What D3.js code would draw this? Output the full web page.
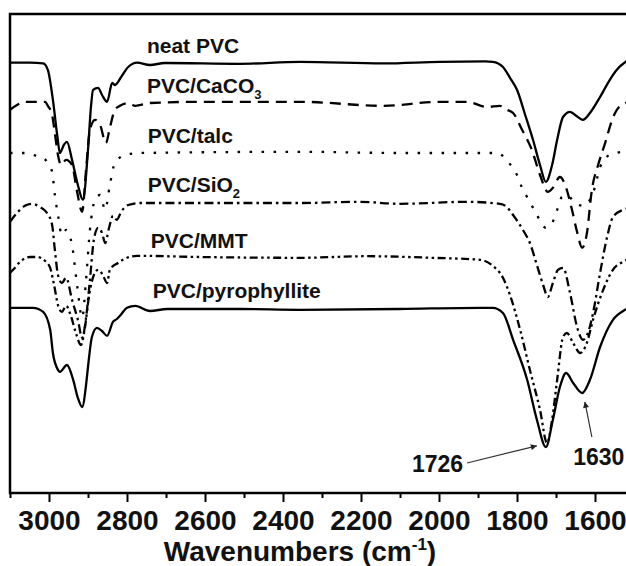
<!DOCTYPE html>
<html>
<head>
<meta charset="utf-8">
<title>FTIR PVC</title>
<script src="https://cdn.jsdelivr.net/npm/d3@7"></script>
<style>
body { margin: 0; background: #fff; }
svg { display: block; font-family: Arial, "Liberation Sans", sans-serif; }
.frame { fill: none; stroke: #000; stroke-width: 2.5px; }
.axis path { display: none; }
.axis line { stroke: #000; stroke-width: 2px; }
.axis text { font-size: 28px; font-weight: bold; fill: #111; }
.spec { fill: none; stroke: #000; stroke-width: 2.3px; stroke-linejoin: round; }
.lbl { font-size: 21px; font-weight: bold; fill: #111; }
.ann { font-size: 23px; font-weight: bold; fill: #111; }
.arrow { stroke: #333; stroke-width: 1.2px; }
</style>
</head>
<body>
<script>

// wavenumber (cm-1), transmittance (a.u., offset per spectrum)
var neatPVC = [
  [3100,107.6],[3049,107.6],[3015,107.4],[3003,105.8],[2990,98.3],[2979,89.5],[2972,85],[2962,87],
  [2954,87.8],[2941,83.3],[2926,77],[2913,73.3],[2900,85.8],[2892,97],[2887,100.8],[2874,101.3],
  [2864,99.5],[2851,97.8],[2838,102.5],[2831,102],[2815,104],[2797,106.5],[2774,107.6],[2741,107],
  [2703,107.5],[2510,107.3],[2356,107.8],[2144,107.4],[1997,107.8],[1882,107.9],[1862,107.8],
  [1836,106.5],[1818,103.8],[1800,100.8],[1779,94.5],[1759,88.3],[1741,82],[1726,77.8],[1710,82],
  [1697,88.3],[1682,94],[1664,95.3],[1651,94.5],[1631,93.3],[1613,95],[1587,99],[1562,103.3],
  [1544,105.8],[1521,107.8],[1500,108.8]
];
var pvcCaCO3 = [
  [3100,95.8],[3082,97],[3062,97.8],[3010,97.8],[3003,96.8],[2992,94.5],[2985,90],[2977,84.5],
  [2969,82],[2956,83.3],[2941,82],[2928,75.3],[2915,70.3],[2905,80.8],[2895,90.8],[2882,93.3],
  [2869,92],[2854,87.5],[2844,91.3],[2831,95.8],[2818,96.8],[2797,97.5],[2779,96.8],[2741,97.5],
  [2613,97.8],[2356,97.8],[2144,96.8],[1997,97.8],[1928,97.8],[1877,96.5],[1844,96.8],[1826,95.8],
  [1810,95],[1787,90.8],[1762,85.8],[1741,79.5],[1721,75.3],[1708,76.3],[1690,79],[1674,76.3],
  [1659,70.8],[1646,65.3],[1633,61.3],[1621,64.8],[1608,75.8],[1592,82],[1574,87.5],[1556,93.3],
  [1544,95.8],[1521,97.5],[1500,98.3]
];
var pvcTalc = [
  [3100,85],[3062,85],[3041,84.5],[3015,83.8],[3003,82.5],[2992,80.3],[2985,74.5],[2977,69.5],
  [2967,64.5],[2956,65.8],[2941,62],[2928,52],[2915,43.8],[2905,53.3],[2895,65.8],[2882,73.3],
  [2869,74.5],[2856,70.8],[2844,77],[2831,82.5],[2805,84.5],[2767,85],[2356,85.3],[2100,85],
  [1851,85],[1823,82.8],[1800,79.5],[1787,76.3],[1767,72.8],[1749,69.5],[1726,66.3],[1710,67.5],
  [1697,70.8],[1685,74],[1672,74.5],[1651,72.5],[1631,71.8],[1613,73.3],[1600,76.5],[1587,81.5],
  [1562,84.5],[1521,85.3],[1500,85.3]
];
var pvcSiO2 = [
  [3100,67.8],[3082,70],[3062,71.8],[3044,72.3],[3023,71.5],[3005,70],[2992,67],[2985,60.8],
  [2977,54.5],[2967,52.5],[2956,53.8],[2941,48.3],[2926,43.3],[2915,38.8],[2905,43.8],[2895,53.3],
  [2885,63.3],[2874,66.3],[2864,65],[2856,62.5],[2846,66.3],[2836,69.3],[2826,68.3],[2815,70.3],
  [2797,72],[2767,72.5],[2613,72.5],[2356,72.5],[2203,72.8],[2100,72.3],[1928,72.8],[1844,72.3],
  [1826,71.5],[1810,69.5],[1785,65.8],[1767,62.5],[1749,57],[1733,52],[1721,49],[1708,52.5],
  [1695,55.8],[1682,56.3],[1664,50],[1646,41.5],[1631,38.3],[1618,40],[1605,45],[1587,55],
  [1569,64],[1554,69],[1528,70.8],[1500,71.5]
];
var pvcMMT = [
  [3100,55],[3092,55.8],[3074,57.8],[3049,59],[3031,59],[3010,58],[2997,56.3],[2987,52],
  [2977,47],[2967,45.3],[2956,46.8],[2944,44.3],[2931,40],[2918,37],[2908,41.3],[2897,49.5],
  [2885,54.5],[2874,55.8],[2862,54.5],[2851,52.5],[2844,55.8],[2823,57.5],[2800,58.8],[2774,59.3],
  [2613,59],[2356,58.8],[2185,59.2],[2018,58.8],[1895,58.3],[1862,56.8],[1836,53.8],[1818,49.5],
  [1792,40.8],[1767,30.8],[1741,20.8],[1723,12.5],[1710,18.3],[1697,28.3],[1682,39],[1672,40],
  [1656,37.5],[1638,35],[1621,37.5],[1605,43.3],[1579,50.8],[1554,55.8],[1528,57.8],[1500,58.8]
];
var pvcPyro = [
  [3100,46.3],[3041,46.3],[3015,45.3],[2997,40.8],[2990,35],[2977,30.8],[2972,30.3],[2954,32],
  [2938,28.3],[2926,23.8],[2915,21.5],[2905,27],[2900,31.5],[2890,39],[2877,41.3],[2864,40.5],
  [2851,39.3],[2836,42.8],[2826,43.5],[2818,44.3],[2800,46.3],[2779,46.8],[2741,45.5],[2697,46],
  [2510,46],[2356,45.8],[2100,46],[1895,46.3],[1862,46.3],[1836,45],[1810,38.3],[1774,28.3],
  [1749,18.3],[1726,11.5],[1708,18.3],[1690,26.5],[1674,30],[1656,27.5],[1633,25],[1613,28.3],
  [1587,36.5],[1554,43.3],[1523,45.8],[1500,46.8]
];

var seriesNames = ["neat PVC", "PVC/CaCO3", "PVC/talc", "PVC/SiO2", "PVC/MMT", "PVC/pyrophyllite"];
var seriesData = [neatPVC, pvcCaCO3, pvcTalc, pvcSiO2, pvcMMT, pvcPyro];
var seriesDash = [null, "11,7", "2.5,9.5", "9,4,2.5,4", "8,3.5,2.5,3.5,2.5,3.5", null];
// label anchor in data units: [wavenumber, transmittance]
var labelPos = [[2749,110], [2749,100], [2747,87.5], [2747,75.3], [2739,61.3], [2734,48.8]];

var majorTicks = [3000, 2800, 2600, 2400, 2200, 2000, 1800, 1600];
var minorTicks = [3100, 2900, 2700, 2500, 2300, 2100, 1900, 1700, 1500];

// peak annotations: text, text anchor pos, arrow tail, arrow tip
var peakText = ["1726", "1630"];
var peakTextPos = [[1938,5.3], [1656,7]];
var peakAnchor = ["end", "start"];
var arrowTail = [[1928,7.5], [1608,14]];
var arrowTip = [[1749,11.8], [1626,22.8]];

var W = 626, H = 566;
var x = d3.scaleLinear().domain([3100, 1500]).range([10, 634]);
var y = d3.scaleLinear().domain([0, 119.75]).range([493, 14]);

var svg = d3.select("body").append("svg")
    .attr("width", W)
    .attr("height", H);

svg.append("defs").append("clipPath").attr("id", "plotclip")
  .append("rect")
    .attr("x", x(3100)).attr("y", y(119.75))
    .attr("width", x(1500) - x(3100)).attr("height", y(0) - y(119.75));

var marker = svg.select("defs").append("marker")
    .attr("id", "ahead")
    .attr("viewBox", "0 0 10 10")
    .attr("refX", 10).attr("refY", 5)
    .attr("markerWidth", 9).attr("markerHeight", 6)
    .attr("markerUnits", "userSpaceOnUse")
    .attr("orient", "auto");
marker.append("path").attr("d", "M0,0L10,5L0,10z").attr("fill", "#222");

var line = d3.line()
    .x(function(d) { return x(d[0]); })
    .y(function(d) { return y(d[1]); })
    .curve(d3.curveMonotoneX);

var plot = svg.append("g").attr("clip-path", "url(#plotclip)");

seriesData.forEach(function(s, i) {
  plot.append("path")
      .datum(s)
      .attr("class", "spec")
      .style("stroke-dasharray", seriesDash[i])
      .attr("d", line);
});

// curve labels, with subscripts for the formulas
seriesNames.forEach(function(name, i) {
  var t = svg.append("text")
      .attr("class", "lbl")
      .attr("x", x(labelPos[i][0]))
      .attr("y", y(labelPos[i][1]));
  var m = name.match(/^(.*?)(\d)$/);
  if (m) {
    t.append("tspan").text(m[1]);
    t.append("tspan").attr("dy", 6).style("font-size", "13px").text(m[2]);
  } else {
    t.text(name);
  }
});

// frame
svg.append("rect")
    .attr("class", "frame")
    .attr("x", x(3100)).attr("y", y(119.75))
    .attr("width", x(1500) - x(3100)).attr("height", y(0) - y(119.75));

svg.append("g")
    .attr("class", "axis")
    .attr("transform", "translate(0," + y(0) + ")")
    .call(d3.axisBottom(x).tickValues(minorTicks).tickSize(5).tickFormat(""));

svg.append("g")
    .attr("class", "axis")
    .attr("transform", "translate(0," + y(0) + ")")
    .call(d3.axisBottom(x).tickValues(majorTicks).tickSize(9).tickPadding(8).tickFormat(d3.format("d")));

var title = svg.append("text")
    .attr("class", "axis")
    .attr("x", 300)
    .attr("y", 561)
    .attr("text-anchor", "middle")
    .style("font-size", "28px").style("font-weight", "bold").style("fill", "#111");
title.append("tspan").text("Wavenumbers (cm");
title.append("tspan").attr("dy", -11).style("font-size", "17px").text("-1");
title.append("tspan").attr("dy", 11).text(")");

// peak arrows
peakText.forEach(function(p, i) {
  svg.append("line")
      .attr("class", "arrow")
      .attr("x1", x(arrowTail[i][0])).attr("y1", y(arrowTail[i][1]))
      .attr("x2", x(arrowTip[i][0])).attr("y2", y(arrowTip[i][1]))
      .attr("marker-end", "url(#ahead)");
  svg.append("text")
      .attr("class", "ann")
      .attr("x", x(peakTextPos[i][0]))
      .attr("y", y(peakTextPos[i][1]))
      .attr("text-anchor", peakAnchor[i])
      .text(p);
});

</script>
</body>
</html>
